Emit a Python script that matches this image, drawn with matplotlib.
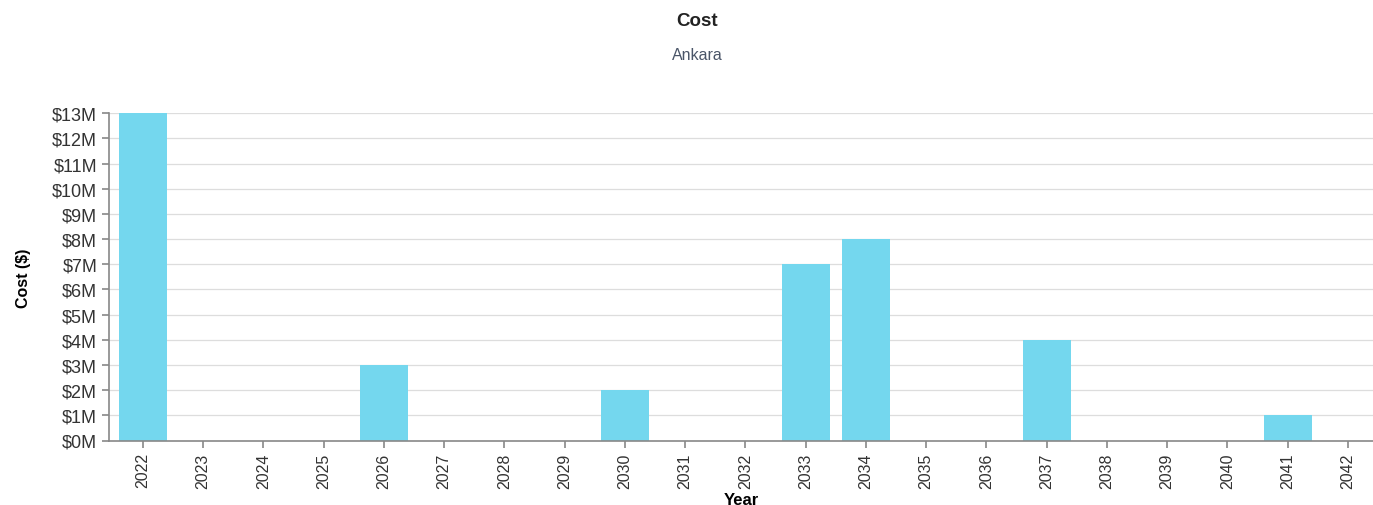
import numpy as np
import matplotlib.pyplot as plt
from matplotlib.ticker import FuncFormatter, MultipleLocator

# yearly cost for Ankara, in millions of dollars
years = [str(y) for y in range(2022, 2043)]
cost_m = [13, 0, 0, 0, 3, 0, 0, 0, 2, 0, 0, 7, 8, 0, 0, 4, 0, 0, 0, 1, 0]

plt.rcParams['font.family'] = ['Liberation Sans', 'DejaVu Sans']

fig = plt.figure(figsize=(13.73, 5.06), dpi=100)
ax = fig.add_axes([109 / 1373, 1 - 441.5 / 506, 1 - 109 / 1373, (441.5 - 114.3) / 506])

x = np.arange(len(years))
ax.bar(x, cost_m, width=0.8, color='#74d7ee', zorder=2)

ax.set_xlim(-0.564, 20.415)
ax.set_ylim(0, 13)
ax.yaxis.set_major_locator(MultipleLocator(1))
ax.yaxis.set_major_formatter(FuncFormatter(lambda v, _: f'${v:.0f}M'))
ax.set_xticks(x)
ax.set_xticklabels(years, rotation=90)

ax.grid(axis='y', color='#dddddd', linewidth=0.9, zorder=0)
for side in ['top', 'right']:
    ax.spines[side].set_visible(False)
for side in ['left', 'bottom']:
    ax.spines[side].set_color('#888888')
    ax.spines[side].set_linewidth(1.2)
ax.tick_params(axis='both', colors='#888888', length=5, width=1.2,
               labelsize=11.5, labelcolor='#333333')
ax.tick_params(axis='y', labelsize=13)

ax.set_ylabel('Cost ($)', fontsize=11.5, fontweight='bold')
ax.yaxis.set_label_coords(-0.062, 0.5)
ax.set_xlabel('Year', fontsize=12, fontweight='bold', labelpad=3)

fig.text(697 / 1373, 1 - 21 / 506, 'Cost', ha='center', va='center',
         fontsize=13.5, fontweight='bold', color='#222222')
fig.text(697 / 1373, 1 - 55 / 506, 'Ankara', ha='center', va='center',
         fontsize=11.5, color='#4a5568')

fig.savefig('out.png', dpi=100)
